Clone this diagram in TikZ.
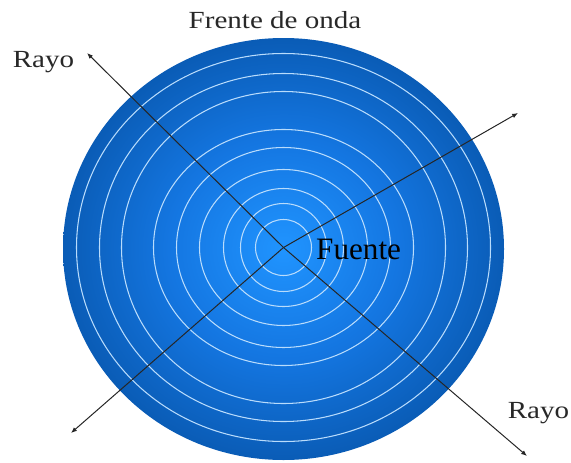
\documentclass[tikz,border=0pt]{standalone}
\usepackage{fontspec}
\usepackage{xcolor}
\usepackage{tikz}
\usetikzlibrary{arrows.meta, positioning, shadings}
\newfontfamily\sourcefont{Liberation Serif}
\newfontfamily\labelfont[FakeStretch=1.18]{Liberation Serif}
\definecolor{diskcenter}{RGB}{32,148,255}
\definecolor{diskmid}{RGB}{20,118,225}
\definecolor{diskedge}{RGB}{10,92,182}
\definecolor{ringline}{RGB}{185,220,252}
\definecolor{labelgray}{RGB}{40,40,40}
\pgfdeclareradialshading{wavedisk}{\pgfpoint{0bp}{0bp}}{color(0bp)=(diskcenter); color(13bp)=(diskmid); color(25bp)=(diskedge); color(50bp)=(diskedge)}
\tikzset{
    wave_disk/.style={
        shading=wavedisk
    },
    wave_ring/.style={
        draw=ringline, line width=0.9pt
    },
    ray_arrow/.style={
        draw=black!85, line width=0.85pt, -{Latex[length=5pt, width=4pt]}
    },
    label_text/.style={
        text=labelgray, font=\labelfont\fontsize{21}{24}\selectfont, inner sep=0pt
    },
    source_text/.style={
        text=black, font=\sourcefont\fontsize{26.6}{30}\selectfont, inner sep=0pt
    }
}
\begin{document}
\begin{tikzpicture}[x=0.03cm, y=0.03cm]
    \useasboundingbox (0, 0) rectangle (571, 462);
    % disk and wave fronts
    \coordinate (src) at (283.5, 214.5);
    \shade[wave_disk] (283.5, 213) ellipse [x radius=220.5, y radius=211];
    \foreach \rx/\ry in {207/194, 184/174, 162/156, 130/118, 107/100, 84/78, 60/59, 43/44, 28/28}
        \draw[wave_ring] (src) ellipse [x radius=\rx, y radius=\ry];

    % ray ends
    \coordinate (tip_ul) at (87, 409);
    \coordinate (tip_ur) at (518, 349);
    \coordinate (tip_ll) at (71, 29);
    \coordinate (tip_lr) at (527, 6);

    \draw[ray_arrow] (src) -- (tip_ul);
    \draw[ray_arrow] (src) -- (tip_ur);
    \draw[ray_arrow] (src) -- (tip_ll);
    \draw[ray_arrow] (src) -- (tip_lr);

    % labels
    \node[label_text, anchor=base] (front) at (275, 433.5) {Frente de onda};
    \node[label_text, anchor=base] (ray_ul) at (43.5, 395) {Rayo};
    \node[label_text, anchor=base] (ray_lr) at (538.5, 44) {Rayo};
    \node[source_text, anchor=base west] (source) at (316, 203) {Fuente};
\end{tikzpicture}
\end{document}
